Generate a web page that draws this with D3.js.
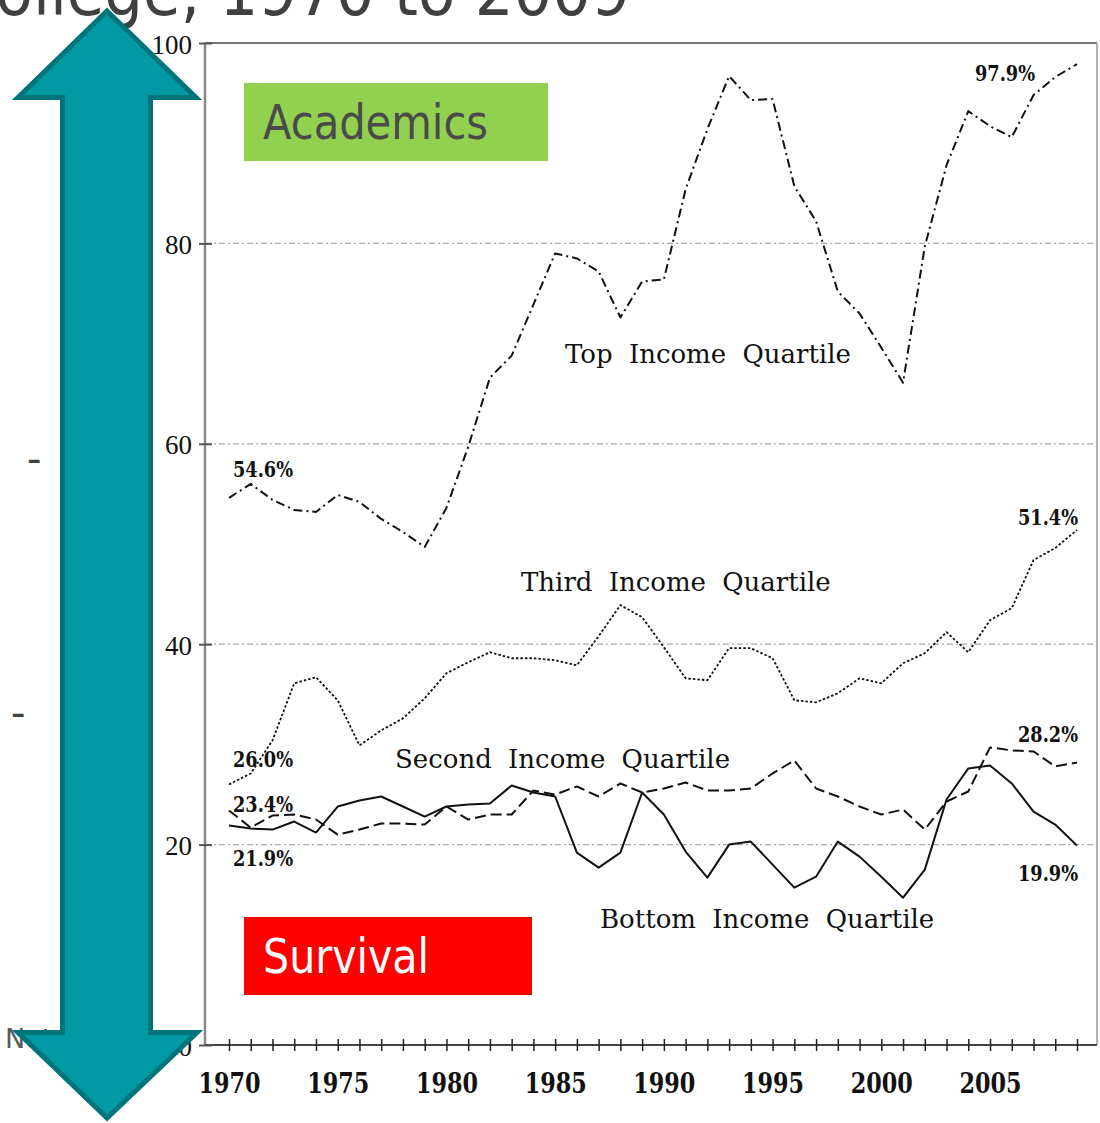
<!DOCTYPE html>
<html>
<head>
<meta charset="utf-8">
<script src="https://cdn.jsdelivr.net/npm/d3@7/dist/d3.min.js"></script>
<style>
  body { margin: 0; background: #fff; }
  svg { display: block; }
</style>
</head>
<body>
<div id="chart"></div>
<script>
// college enrollment by income quartile, 1970-2009
var years = d3.range(1970, 2010);

var topQuartile = [54.6, 56.0, 54.4, 53.4, 53.2, 54.9, 54.2, 52.5, 51.2, 49.7,
  53.6, 59.7, 66.6, 68.8, 73.9, 79.0, 78.5, 77.2, 72.6, 76.2,
  76.4, 85.4, 91.4, 96.7, 94.3, 94.4, 85.7, 82.2, 75.2, 73.0,
  69.6, 66.1, 79.7, 87.8, 93.2, 91.7, 90.6, 94.8, 96.6, 97.9];

var thirdQuartile = [26.0, 27.1, 30.4, 36.1, 36.7, 34.4, 29.9, 31.4, 32.6, 34.6,
  37.1, 38.2, 39.2, 38.6, 38.6, 38.4, 37.9, 40.8, 43.9, 42.7,
  39.7, 36.6, 36.4, 39.6, 39.6, 38.6, 34.4, 34.2, 35.1, 36.6,
  36.1, 38.1, 39.1, 41.2, 39.2, 42.4, 43.6, 48.4, 49.6, 51.4];

var secondQuartile = [23.4, 21.7, 22.9, 23.0, 22.5, 21.0, 21.5, 22.1, 22.1, 22.0,
  23.8, 22.5, 23.0, 23.0, 25.4, 25.0, 25.8, 24.8, 26.1, 25.2,
  25.6, 26.2, 25.4, 25.4, 25.6, 27.1, 28.4, 25.6, 24.8, 23.8,
  23.0, 23.5, 21.5, 24.3, 25.3, 29.7, 29.4, 29.3, 27.8, 28.2];

var bottomQuartile = [21.9, 21.6, 21.5, 22.3, 21.2, 23.8, 24.4, 24.8, 23.8, 22.8,
  23.8, 24.0, 24.1, 25.9, 25.2, 24.8, 19.2, 17.7, 19.2, 25.2,
  23.0, 19.3, 16.7, 20.0, 20.3, 18.0, 15.7, 16.8, 20.3, 18.8,
  16.8, 14.7, 17.5, 24.5, 27.6, 27.9, 26.1, 23.3, 22.0, 19.9];

var yTicks = [0, 20, 40, 60, 80, 100];
var yGrid = [20, 40, 60, 80];
var xLabelYears = [1970, 1975, 1980, 1985, 1990, 1995, 2000, 2005];

var seriesNames = ["Top Income Quartile", "Third Income Quartile", "Second Income Quartile", "Bottom Income Quartile"];
var startLabels = ["54.6%", "26.0%", "23.4%", "21.9%"];
var endLabels = ["97.9%", "51.4%", "28.2%", "19.9%"];

(function(){
	var width = 1100,
	height = 1123;

	var svg = d3.select("#chart")
		.append("svg")
		.attr("width", width)
		.attr("height", height)

	var x = d3.scaleLinear()
		.domain([1970, 2009])
		.range([229, 1077])

	var y = d3.scaleLinear()
		.domain([0, 100])
		.range([1045, 43])

	var left = 205, right = 1097;

	// gridlines
	svg.append("g").selectAll("line")
		.data(yGrid)
		.enter().append("line")
		.attr("x1", left)
		.attr("x2", right)
		.attr("y1", function(d){ return y(d); })
		.attr("y2", function(d){ return y(d); })
		.attr("stroke", "#a8a8a8")
		.attr("stroke-width", 1.2)
		.attr("stroke-dasharray", "6,3,2,3")

	// frame
	svg.append("line")
		.attr("x1", left).attr("x2", right)
		.attr("y1", y(100)).attr("y2", y(100))
		.attr("stroke", "#777").attr("stroke-width", 2)
	svg.append("line")
		.attr("x1", right).attr("x2", right)
		.attr("y1", y(100)).attr("y2", y(0))
		.attr("stroke", "#999").attr("stroke-width", 1.5)
	svg.append("line")
		.attr("x1", left).attr("x2", left)
		.attr("y1", y(100)).attr("y2", y(0))
		.attr("stroke", "#888").attr("stroke-width", 2.5)
	svg.append("line")
		.attr("x1", left).attr("x2", right)
		.attr("y1", y(0)).attr("y2", y(0))
		.attr("stroke", "#444").attr("stroke-width", 2)

	// y axis
	var yAxis = svg.append("g")
		.attr("transform", "translate(" + left + ",0)")
		.call(d3.axisLeft(y).tickValues(yTicks).tickSizeInner(6).tickSizeOuter(0).tickPadding(7))
	yAxis.select(".domain").remove()
	yAxis.selectAll(".tick line")
		.attr("x1", 7)
		.attr("stroke", "#555")
		.attr("stroke-width", 2)
	yAxis.selectAll(".tick text")
		.attr("dy", null)
		.attr("y", 10)
		.attr("fill", "#111")
		.style("font-family", "'Liberation Serif', serif")
		.style("font-size", "27px")

	// x axis
	var xAxis = svg.append("g")
		.attr("transform", "translate(0," + y(0) + ")")
		.call(d3.axisBottom(x).tickValues(years).tickSizeInner(6).tickSizeOuter(0)
			.tickFormat(function(d){ return xLabelYears.indexOf(d) >= 0 ? d : ""; }))
	xAxis.select(".domain").remove()
	xAxis.selectAll(".tick line")
		.attr("y1", -6)
		.attr("stroke", "#222")
		.attr("stroke-width", 1.5)
	xAxis.selectAll(".tick text")
		.attr("dy", null)
		.attr("y", 48)
		.attr("fill", "#111")
		.attr("textLength", function(d){ return xLabelYears.indexOf(d) >= 0 ? 62 : null; })
		.attr("lengthAdjust", "spacingAndGlyphs")
		.style("font-family", "'DejaVu Serif', serif")
		.style("font-weight", "bold")
		.style("font-size", "28px")

	// lines
	var line = d3.line()
		.x(function(d, i){ return x(years[i]); })
		.y(function(d){ return y(d); })

	var series = [
		{ values: topQuartile, dash: "9,4,2,4", w: 2 },
		{ values: thirdQuartile, dash: "2.5,2", w: 1.8 },
		{ values: secondQuartile, dash: "11,5", w: 2 },
		{ values: bottomQuartile, dash: null, w: 2 }
	];

	svg.append("g").selectAll("path")
		.data(series)
		.enter().append("path")
		.attr("d", function(d){ return line(d.values); })
		.attr("fill", "none")
		.attr("stroke", "#111")
		.attr("stroke-width", function(d){ return d.w; })
		.attr("stroke-dasharray", function(d){ return d.dash; })
		.attr("stroke-linejoin", "round")

	// series names
	var namePos = [[565, 363], [521, 591], [395, 768], [600, 928]];
	svg.append("g").selectAll("text")
		.data(seriesNames)
		.enter().append("text")
		.attr("x", function(d, i){ return namePos[i][0]; })
		.attr("y", function(d, i){ return namePos[i][1]; })
		.attr("fill", "#111")
		.style("font-family", "'DejaVu Serif', serif")
		.style("font-size", "26px")
		.style("word-spacing", "8px")
		.text(function(d){ return d; })

	// value labels
	var startPos = [[233, 477], [233, 767], [233, 812], [233, 866]];
	var endPos = [[975, 81], [1018, 525], [1018, 742], [1018, 881]];
	var valueLabels = startLabels.map(function(t, i){ return { t: t, p: startPos[i] }; })
		.concat(endLabels.map(function(t, i){ return { t: t, p: endPos[i] }; }));

	svg.append("g").selectAll("text")
		.data(valueLabels)
		.enter().append("text")
		.attr("x", function(d){ return d.p[0]; })
		.attr("y", function(d){ return d.p[1]; })
		.attr("textLength", 60)
		.attr("lengthAdjust", "spacingAndGlyphs")
		.attr("fill", "#111")
		.style("font-family", "'DejaVu Serif', serif")
		.style("font-weight", "bold")
		.style("font-size", "23px")
		.text(function(d){ return d.t; })

	// slide leftovers (title runs off the top of the slide)
	svg.append("text")
		.attr("x", -47).attr("y", 15)
		.attr("textLength", 677)
		.attr("lengthAdjust", "spacingAndGlyphs")
		.attr("fill", "#404040")
		.style("font-family", "'DejaVu Sans', sans-serif")
		.style("font-size", "68px")
		.text("College, 1970 to 2009")

	svg.append("text").attr("x", 27).attr("y", 473)
		.attr("fill", "#404040")
		.style("font-family", "'DejaVu Sans', sans-serif").style("font-size", "40px")
		.text("-")
	svg.append("text").attr("x", 11).attr("y", 727)
		.attr("fill", "#404040")
		.style("font-family", "'DejaVu Sans', sans-serif").style("font-size", "40px")
		.text("-")
	svg.append("text").attr("x", 5).attr("y", 1048)
		.attr("fill", "#595959")
		.style("font-family", "'DejaVu Sans', sans-serif").style("font-size", "27px")
		.text("Note")

	// boxes
	svg.append("rect")
		.attr("x", 244).attr("y", 83).attr("width", 304).attr("height", 78)
		.attr("fill", "#92d050")
	svg.append("text")
		.attr("x", 263).attr("y", 139)
		.attr("textLength", 225)
		.attr("lengthAdjust", "spacingAndGlyphs")
		.attr("fill", "#4a4a4a")
		.style("font-family", "'DejaVu Sans', sans-serif")
		.style("font-size", "48px")
		.text("Academics")

	svg.append("rect")
		.attr("x", 244).attr("y", 917).attr("width", 288).attr("height", 78)
		.attr("fill", "#ff0000")
	svg.append("text")
		.attr("x", 263).attr("y", 973)
		.attr("textLength", 166)
		.attr("lengthAdjust", "spacingAndGlyphs")
		.attr("fill", "#fff")
		.style("font-family", "'DejaVu Sans', sans-serif")
		.style("font-size", "48px")
		.text("Survival")

	// double arrow
	var arrow = [[107, 11], [196, 97.5], [150.5, 97.5], [150.5, 1032.5], [197, 1032.5],
		[107, 1118], [18, 1032.5], [62.5, 1032.5], [62.5, 97.5], [18, 97.5]];
	svg.append("path")
		.attr("d", d3.line()(arrow) + "Z")
		.attr("fill", "#0099a4")
		.attr("stroke", "#00747b")
		.attr("stroke-width", 5)
		.attr("stroke-linejoin", "miter")

})();
</script>
</body>
</html>
